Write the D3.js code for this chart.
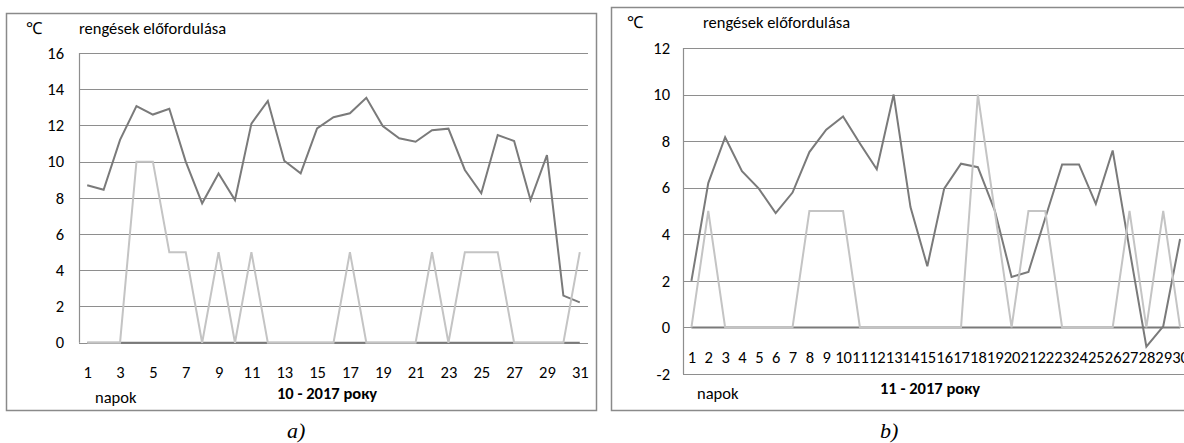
<!DOCTYPE html>
<html>
<head>
<meta charset="utf-8">
<script src="https://cdn.jsdelivr.net/npm/d3@7"></script>
<style>
  html, body { margin: 0; padding: 0; background: #fff; }
  svg { display: block; }
  text { font-family: Calibri, Carlito, Lato, "Open Sans", sans-serif; fill: #000; }
</style>
</head>
<body>
<svg id="chart" width="1184" height="443"></svg>
<script>
// ---------- DATA ----------
// Panel a) October 2017
const daysA = d3.range(1, 32);
const tempA = [8.7, 8.45, 11.2, 13.07, 12.6, 12.92, 10.0, 7.7, 9.35, 7.88,
               12.1, 13.35, 10.05, 9.35, 11.84, 12.45, 12.67, 13.53, 11.97, 11.29,
               11.1, 11.74, 11.82, 9.54, 8.25, 11.47, 11.14, 7.88, 10.36, 2.6, 2.23];
const quakeA = [0, 0, 0, 10, 10, 5, 5, 0, 5, 0,
                5, 0, 0, 0, 0, 0, 5, 0, 0, 0,
                0, 5, 0, 5, 5, 5, 0, 0, 0, 0, 5];
const zeroA = daysA.map(() => 0);
const yTicksA = [0, 2, 4, 6, 8, 10, 12, 14, 16];
const xTicksA = [1, 3, 5, 7, 9, 11, 13, 15, 17, 19, 21, 23, 25, 27, 29, 31];

// Panel b) November 2017
const daysB = d3.range(1, 31);
const tempB = [2.0, 6.2, 8.17, 6.71, 5.96, 4.91, 5.79, 7.53, 8.49, 9.06,
               7.9, 6.79, 10.0, 5.17, 2.63, 5.96, 7.03, 6.88, 5.03, 2.17,
               2.38, 4.7, 7.0, 7.0, 5.31, 7.6, 3.35, -0.83, 0.05, 3.8];
const quakeB = [0, 5, 0, 0, 0, 0, 0, 5, 5, 5,
                0, 0, 0, 0, 0, 0, 0, 10, 5, 0,
                5, 5, 0, 0, 0, 0, 5, 0, 5, 0];
const zeroB = daysB.map(() => 0);
const yTicksB = [-2, 0, 2, 4, 6, 8, 10, 12];
const xTicksB = daysB;

const unitLabel = "\u2103";
const seriesLabel = "rengések előfordulása";
const dayLabel = "napok";
const monthLabelA = "10 - 2017 року";
const monthLabelB = "11 - 2017 року";

// ---------- STYLE ----------
const C_DARK = "#7a7a7a", C_LIGHT = "#c4c4c4", C_GRID = "#8e8e8e", C_FRAME = "#8a8a8a";
const FS = 16.5;

const svg = d3.select("#chart");

function panel(cfg) {
  const g = svg.append("g");
  // outer frame
  g.append("rect")
    .attr("x", cfg.frame[0]).attr("y", cfg.frame[1])
    .attr("width", cfg.frame[2]).attr("height", cfg.frame[3])
    .attr("fill", "none").attr("stroke", C_FRAME).attr("stroke-width", 1.5);

  const x = d3.scalePoint().domain(cfg.days).range([cfg.left, cfg.right]).padding(0.5);
  const y = d3.scaleLinear().domain(cfg.yDomain).range([cfg.bottom, cfg.top]);

  // gridlines
  g.append("g").selectAll("line").data(cfg.yTicks).join("line")
    .attr("x1", cfg.left).attr("x2", cfg.right)
    .attr("y1", d => Math.round(y(d)) + 0.5).attr("y2", d => Math.round(y(d)) + 0.5)
    .attr("stroke", C_GRID).attr("stroke-width", 1.2);
  // vertical axis
  g.append("line")
    .attr("x1", cfg.left + 0.5).attr("x2", cfg.left + 0.5)
    .attr("y1", y(cfg.yDomain[1])).attr("y2", y(cfg.yDomain[0]))
    .attr("stroke", C_GRID).attr("stroke-width", 1.2);

  // y tick labels via d3 axis
  const yAxis = d3.axisLeft(y).tickValues(cfg.yTicks).tickSize(0).tickPadding(0)
    .tickFormat(d => d < 0 ? "-" + Math.abs(d) : d);
  const ya = g.append("g").attr("transform", `translate(${cfg.yLabelX},0)`).call(yAxis);
  ya.select(".domain").remove();
  ya.selectAll("text").attr("font-size", FS).attr("fill", "#000")
    .attr("font-family", "Calibri, Carlito, Lato, sans-serif");

  // x tick labels via d3 axis
  const xAxis = d3.axisBottom(x).tickValues(cfg.xTicks).tickSize(0).tickPadding(0);
  const xa = g.append("g").attr("transform", `translate(0,${cfg.xLabelY})`).call(xAxis);
  xa.select(".domain").remove();
  xa.selectAll("text").attr("font-size", FS).attr("fill", "#000").attr("dy", "0.35em")
    .attr("font-family", "Calibri, Carlito, Lato, sans-serif");

  const line = d3.line().x((d, i) => x(cfg.days[i])).y(d => y(d));
  g.append("path").datum(cfg.zero).attr("d", line)
    .attr("fill", "none").attr("stroke", C_DARK).attr("stroke-width", 2);
  g.append("path").datum(cfg.temp).attr("d", line)
    .attr("fill", "none").attr("stroke", C_DARK).attr("stroke-width", 2)
    .attr("stroke-linejoin", "miter");
  g.append("path").datum(cfg.quake).attr("d", line)
    .attr("fill", "none").attr("stroke", C_LIGHT).attr("stroke-width", 2)
    .attr("stroke-linejoin", "miter");

  // texts
  g.append("text").attr("x", cfg.unitPos[0]).attr("y", cfg.unitPos[1])
    .attr("font-size", FS).text(unitLabel);
  g.append("text").attr("x", cfg.titlePos[0]).attr("y", cfg.titlePos[1])
    .attr("font-size", FS).text(seriesLabel);
  g.append("text").attr("x", cfg.dayPos[0]).attr("y", cfg.dayPos[1])
    .attr("font-size", FS).text(dayLabel);
  g.append("text").attr("x", cfg.monthPos[0]).attr("y", cfg.monthPos[1])
    .attr("font-size", FS).attr("font-weight", "bold").text(cfg.monthLabel);
  g.append("text").attr("x", cfg.capPos[0]).attr("y", cfg.capPos[1])
    .attr("font-size", 22).attr("font-style", "italic")
    .style("font-family", "'Liberation Serif', 'DejaVu Serif', serif").text(cfg.caption);
}

panel({
  frame: [6.5, 13.5, 590, 397],
  days: daysA, temp: tempA, quake: quakeA, zero: zeroA,
  yDomain: [0, 16], yTicks: yTicksA, xTicks: xTicksA,
  left: 79, right: 588, top: 53, bottom: 342.7,
  yLabelX: 64, xLabelY: 372,
  unitPos: [26, 34], titlePos: [79, 34],
  dayPos: [95, 403], monthPos: [277, 399], monthLabel: monthLabelA,
  capPos: [287, 438], caption: "a)"
});

panel({
  frame: [611.5, 7.5, 600, 403],
  days: daysB, temp: tempB, quake: quakeB, zero: zeroB,
  yDomain: [-2, 12], yTicks: yTicksB, xTicks: xTicksB,
  left: 683, right: 1188.5, top: 48, bottom: 374,
  yLabelX: 670, xLabelY: 357,
  unitPos: [627, 28], titlePos: [703, 28],
  dayPos: [697, 399], monthPos: [880, 394], monthLabel: monthLabelB,
  capPos: [880, 438], caption: "b)"
});
</script>
</body>
</html>
